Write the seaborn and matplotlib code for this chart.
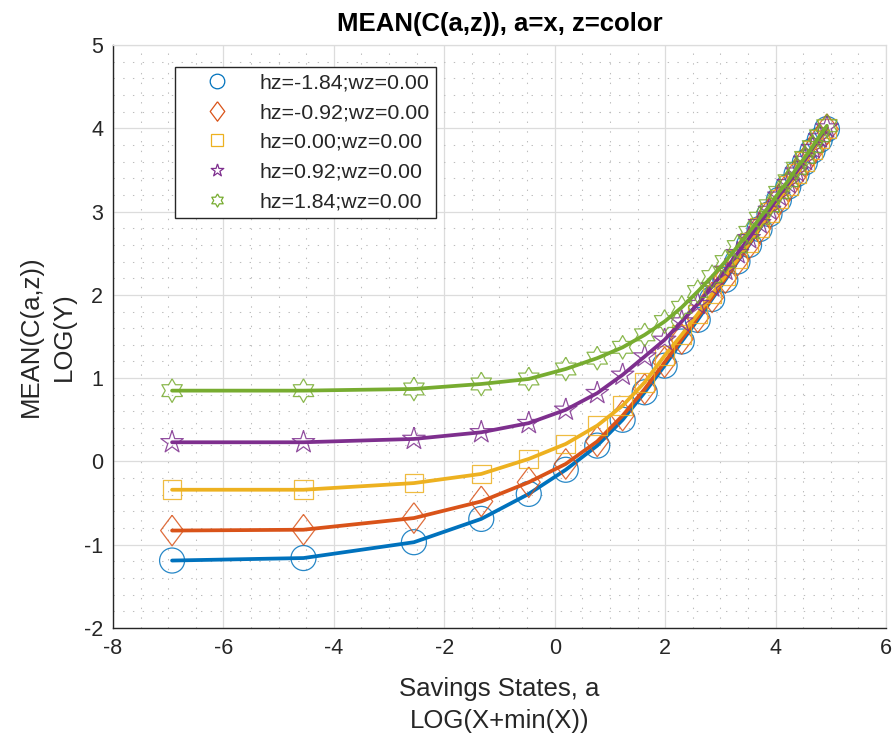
import numpy as np
import pandas as pd
import matplotlib
matplotlib.use("Agg")
import matplotlib.pyplot as plt
from matplotlib.ticker import MultipleLocator
from matplotlib.lines import Line2D
import seaborn as sns

# savings grid, in logs
log_a = [-6.93, -4.55, -2.55, -1.33, -0.47, 0.20, 0.77, 1.23, 1.63, 1.99,
         2.30, 2.59, 2.85, 3.09, 3.31, 3.52, 3.71, 3.89, 4.06, 4.23,
         4.38, 4.53, 4.67, 4.80, 4.93]

# mean log consumption at each savings state, one list per productivity shock
c_hz_m184 = [-1.19, -1.16, -0.97, -0.69, -0.39, -0.10, 0.19, 0.50, 0.83, 1.15,
             1.44, 1.70, 1.95, 2.18, 2.40, 2.60, 2.79, 2.97, 3.14, 3.30,
             3.45, 3.59, 3.73, 3.86, 3.99]
c_hz_m092 = [-0.83, -0.82, -0.68, -0.48, -0.25, -0.03, 0.24, 0.55, 0.87, 1.19,
             1.47, 1.73, 1.97, 2.20, 2.41, 2.61, 2.80, 2.98, 3.14, 3.30,
             3.45, 3.60, 3.73, 3.87, 3.99]
c_hz_000 = [-0.34, -0.34, -0.26, -0.15, 0.03, 0.21, 0.43, 0.67, 0.95, 1.27,
            1.52, 1.77, 2.01, 2.23, 2.43, 2.63, 2.81, 2.99, 3.15, 3.31,
            3.46, 3.60, 3.74, 3.87, 4.00]
c_hz_p092 = [0.23, 0.23, 0.27, 0.35, 0.46, 0.62, 0.82, 1.04, 1.26, 1.46,
             1.68, 1.89, 2.10, 2.30, 2.50, 2.68, 2.86, 3.02, 3.19, 3.34,
             3.48, 3.62, 3.76, 3.89, 4.01]
c_hz_p184 = [0.85, 0.85, 0.87, 0.93, 0.99, 1.11, 1.24, 1.37, 1.52, 1.68,
             1.85, 2.04, 2.22, 2.40, 2.58, 2.75, 2.92, 3.07, 3.23, 3.37,
             3.52, 3.65, 3.78, 3.91, 4.03]

series_labels = ["hz=-1.84;wz=0.00", "hz=-0.92;wz=0.00", "hz=0.00;wz=0.00",
                 "hz=0.92;wz=0.00", "hz=1.84;wz=0.00"]
series_values = [c_hz_m184, c_hz_m092, c_hz_000, c_hz_p092, c_hz_p184]

colors = ["#0072BD", "#D95319", "#EDB120", "#7E2F8E", "#77AC30"]


def star_marker(points, inner):
    n = 2 * points
    ang = np.pi / 2 + np.arange(n + 1) * np.pi / points
    rad = np.where(np.arange(n + 1) % 2 == 0, 1.0, inner)
    return list(zip(rad * np.cos(ang), rad * np.sin(ang)))


diamond = [(0.0, 1.0), (0.75, 0.0), (0.0, -1.0), (-0.75, 0.0), (0.0, 1.0)]
pentagram = star_marker(5, 0.382)
hexagram = star_marker(6, 0.577)
markers = ["o", diamond, "s", pentagram, hexagram]
plot_ms = [18, 22, 13.5, 17, 17]
legend_ms = [10.5, 14, 8.5, 9.5, 9.5]

df = pd.concat(
    [pd.DataFrame({"log_a": log_a, "log_c": vals, "series": lab})
     for lab, vals in zip(series_labels, series_values)],
    ignore_index=True,
)

sns.set_style("white")
plt.rcParams["font.family"] = ["Liberation Sans", "DejaVu Sans"]
plt.rcParams["lines.scale_dashes"] = False
plt.rcParams["axes.unicode_minus"] = False

text_col = "#262626"
fig = plt.figure(figsize=(8.94, 7.36), dpi=100)
ax = fig.add_axes([113 / 894, 1 - 628 / 736, (886 - 113) / 894, (628 - 45) / 736])

for i, lab in enumerate(series_labels):
    sub = df[df["series"] == lab]
    sns.scatterplot(data=sub, x="log_a", y="log_c", marker=markers[i],
                    s=plot_ms[i] ** 2, facecolor="none", edgecolor=colors[i],
                    linewidth=0.9, alpha=0.85, ax=ax, zorder=3 + 2 * i,
                    legend=False)
    sns.lineplot(data=sub, x="log_a", y="log_c", color=colors[i],
                 linewidth=2.7, estimator=None, sort=False, ax=ax,
                 zorder=4 + 2 * i, legend=False)

ax.set_xlim(-8, 6)
ax.set_ylim(-2, 5)
ax.xaxis.set_major_locator(MultipleLocator(2))
ax.yaxis.set_major_locator(MultipleLocator(1))
ax.xaxis.set_minor_locator(MultipleLocator(0.5))
ax.yaxis.set_minor_locator(MultipleLocator(0.2))

ax.set_axisbelow(True)
ax.grid(which="major", color="#DCDCDC", linewidth=0.9, linestyle="-")
ax.grid(which="minor", color="#BDBDBD", linewidth=0.75, linestyle=(0, (1, 6)))

ax.tick_params(which="major", direction="in", length=6, width=0.9,
               colors=text_col, labelsize=15.5, pad=7,
               top=False, right=False)
ax.tick_params(which="minor", length=0)

for side in ["left", "bottom"]:
    ax.spines[side].set_color(text_col)
    ax.spines[side].set_linewidth(1.0)
for side in ["top", "right"]:
    ax.spines[side].set_color("#DCDCDC")
    ax.spines[side].set_linewidth(0.9)

ax.set_title("MEAN(C(a,z)), a=x, z=color", fontsize=18.5, fontweight="bold",
             color="black", pad=10)
ax.set_xlabel("Savings States, a\nLOG(X+min(X))", fontsize=18.5, color=text_col,
              labelpad=13, linespacing=1.45)
ax.set_ylabel("MEAN(C(a,z))\nLOG(Y)", fontsize=18.5, color=text_col,
              labelpad=6, linespacing=1.45)

handles = [Line2D([], [], linestyle="none", marker=markers[i],
                  markersize=legend_ms[i], markerfacecolor="none",
                  markeredgecolor=colors[i], markeredgewidth=0.9)
           for i in range(len(series_labels))]
leg = ax.legend(handles, series_labels, loc="upper left",
                bbox_to_anchor=(175 / 894, 1 - 67 / 736),
                bbox_transform=fig.transFigure, fontsize=15.4,
                frameon=True, fancybox=False, framealpha=1,
                edgecolor="#262626", borderpad=0.3, labelspacing=0.5,
                handlelength=3.3, handletextpad=0.36, borderaxespad=0)
leg.get_frame().set_linewidth(1.0)
for t in leg.get_texts():
    t.set_color(text_col)

fig.savefig("out.png", dpi=100)
